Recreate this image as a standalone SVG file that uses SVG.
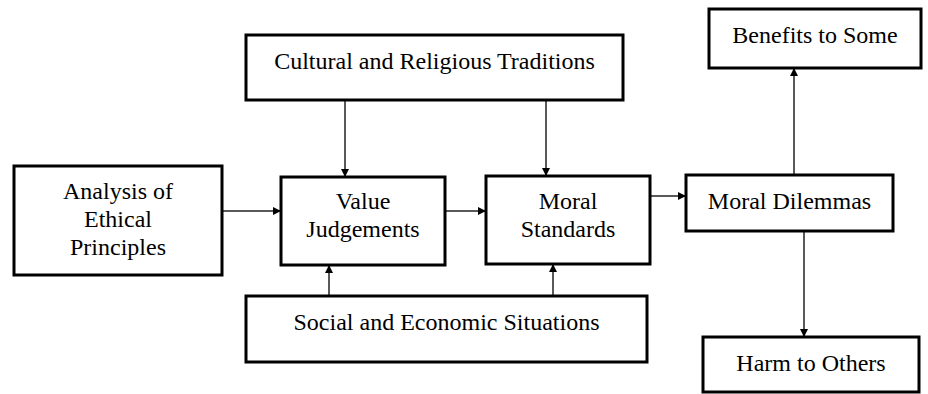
<svg xmlns="http://www.w3.org/2000/svg" width="928" height="394" viewBox="0 0 928 394">
<defs>
<style>
.box{fill:#fff;stroke:#000;stroke-width:3}
.c{fill:none;stroke:#222;stroke-width:1.5}
</style>
<marker id="ah" viewBox="0 0 10 10" refX="10" refY="5" markerWidth="8" markerHeight="8" markerUnits="userSpaceOnUse" orient="auto">
<path d="M0,0 L10,5 L0,10 z" fill="#000"/>
</marker>
</defs>
<rect width="928" height="394" fill="#fff"/>
<g id="connectors">
<line class="c" x1="222" y1="211" x2="281" y2="211" marker-end="url(#ah)"/>
<line class="c" x1="445" y1="211" x2="486" y2="211" marker-end="url(#ah)"/>
<line class="c" x1="650" y1="196" x2="686" y2="196" marker-end="url(#ah)"/>
<line class="c" x1="345" y1="100" x2="345" y2="177" marker-end="url(#ah)"/>
<line class="c" x1="546" y1="100" x2="546" y2="176" marker-end="url(#ah)"/>
<line class="c" x1="329" y1="296" x2="329" y2="265" marker-end="url(#ah)"/>
<line class="c" x1="553" y1="296" x2="553" y2="264" marker-end="url(#ah)"/>
<line class="c" x1="794" y1="175" x2="794" y2="68" marker-end="url(#ah)"/>
<line class="c" x1="804" y1="231" x2="804" y2="337" marker-end="url(#ah)"/>
</g>
<g font-family="Liberation Serif, Times New Roman, serif" font-size="24" text-anchor="middle" fill="#000">
<g id="analysis">
<rect class="box" x="14" y="166" width="208" height="109"/>
<text x="118" y="199">Analysis of</text>
<text x="118" y="227">Ethical</text>
<text x="118" y="255">Principles</text>
</g>
<g id="value">
<rect class="box" x="281" y="177" width="164" height="88"/>
<text x="363" y="209">Value</text>
<text x="363" y="237">Judgements</text>
</g>
<g id="moral-standards">
<rect class="box" x="486" y="176" width="164" height="88"/>
<text x="568" y="209">Moral</text>
<text x="568" y="237">Standards</text>
</g>
<g id="dilemmas">
<rect class="box" x="686" y="175" width="207" height="56"/>
<text x="789.5" y="209">Moral Dilemmas</text>
</g>
<g id="cultural">
<rect class="box" x="246" y="35" width="377" height="65"/>
<text x="434.5" y="69">Cultural and Religious Traditions</text>
</g>
<g id="social">
<rect class="box" x="246" y="296" width="401" height="66"/>
<text x="446.5" y="330">Social and Economic Situations</text>
</g>
<g id="benefits">
<rect class="box" x="709" y="9" width="212" height="59"/>
<text x="815" y="43">Benefits to Some</text>
</g>
<g id="harm">
<rect class="box" x="703" y="337" width="216" height="55"/>
<text x="811" y="371">Harm to Others</text>
</g>
</g>
</svg>
